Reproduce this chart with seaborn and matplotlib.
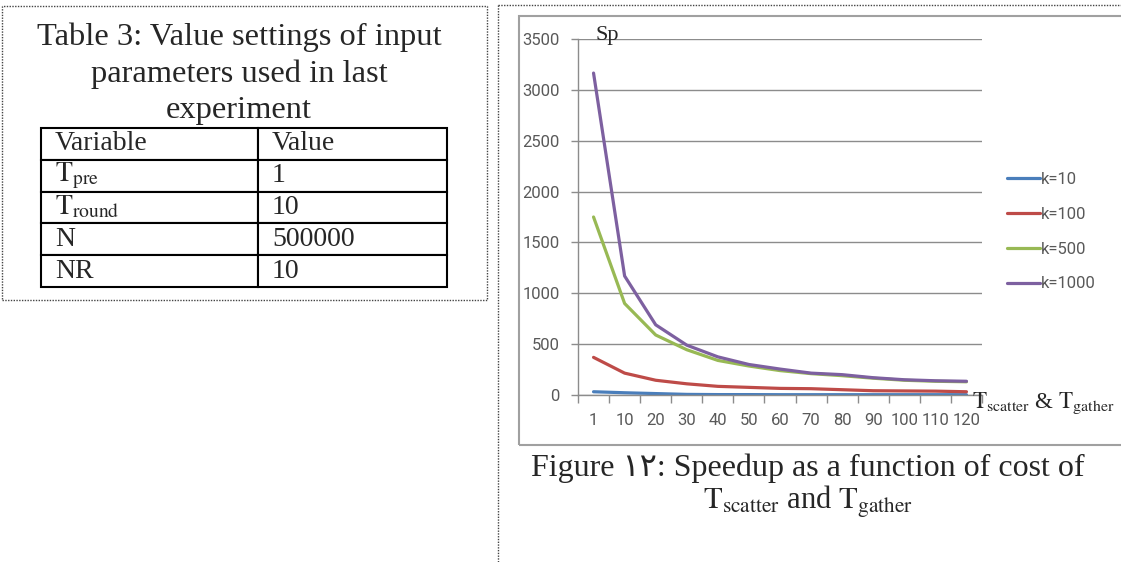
import numpy as np
import matplotlib
matplotlib.use('Agg')
import matplotlib.pyplot as plt
import pandas as pd
import seaborn as sns
from matplotlib.lines import Line2D
from matplotlib.patches import Rectangle

sns.set_style('white')
plt.rcParams['font.family'] = ['Liberation Serif', 'DejaVu Sans']
plt.rcParams['mathtext.fontset'] = 'stix'

# data
cost = ['1', '10', '20', '30', '40', '50', '60', '70', '80', '90', '100', '110', '120']
sp_k10 = [32, 22, 14, 6, 4, 4, 3, 3, 3, 3, 3, 3, 3]
sp_k100 = [370, 215, 145, 110, 85, 75, 65, 62, 52, 42, 40, 38, 32]
sp_k500 = [1750, 900, 590, 445, 340, 285, 240, 210, 190, 165, 145, 135, 130]
sp_k1000 = [3165, 1170, 690, 490, 375, 300, 255, 215, 200, 170, 150, 140, 135]
k_labels = ['k=10', 'k=100', 'k=500', 'k=1000']
k_colors = ['#4A7EBB', '#BE4B48', '#98B954', '#7D60A0']

table_vars = ['Variable', r'$\mathrm{T}_{\mathrm{pre}}$', r'$\mathrm{T}_{\mathrm{round}}$', 'N', 'NR']
table_vals = ['Value', '1', '10', '500000', '10']

df = pd.concat([
    pd.DataFrame({'cost': cost, 'sp': s, 'k': lab})
    for s, lab in zip([sp_k10, sp_k100, sp_k500, sp_k1000], k_labels)
])

W, H = 1121, 562


def fx(px):
    return px / W


def fy(py):
    return 1 - py / H


fig = plt.figure(figsize=(W / 100, H / 100), dpi=100)

# ---- chart ----
ax = fig.add_axes([fx(578), fy(395), (982 - 578) / W, (395 - 39) / H])
sns.lineplot(data=df, x='cost', y='sp', hue='k', palette=dict(zip(k_labels, k_colors)),
             lw=2.3, sort=False, ax=ax)

gray = '#8c8c8c'
tick_font = dict(family=['Roboto'], size=12)
ax.set_xlim(-0.5, 12.5)
ax.set_ylim(0, 3500)
ax.set_yticks(np.arange(0, 3501, 500))
ax.set_xticks(np.arange(-0.5, 13, 1), minor=True)
ax.yaxis.grid(True, color=gray, lw=1)
ax.xaxis.grid(False)
for s in ['top', 'right']:
    ax.spines[s].set_visible(False)
for s in ['left', 'bottom']:
    ax.spines[s].set_color(gray)
    ax.spines[s].set_linewidth(1)
ax.tick_params(axis='x', which='major', bottom=True, length=0, pad=13, labelcolor='#595959')
ax.tick_params(axis='x', which='minor', bottom=True, length=6, width=1, color=gray)
ax.tick_params(axis='y', left=True, length=5, width=1, color=gray, pad=8, labelcolor='#595959')
for lab in ax.get_xticklabels() + ax.get_yticklabels():
    lab.set_fontfamily(tick_font['family'])
    lab.set_fontsize(tick_font['size'])
ax.set_xlabel('')
ax.set_ylabel('')

handles, labels = ax.get_legend_handles_labels()
leg = ax.legend(handles, labels, loc='center left', bbox_to_anchor=(1.062, 0.459),
                frameon=False, handlelength=2.0, handletextpad=0.0, labelspacing=1.19,
                prop=tick_font, borderpad=0, borderaxespad=0)
for t in leg.get_texts():
    t.set_color('#595959')
for ln in leg.get_lines():
    ln.set_linewidth(2.3)

fig.text(fx(595), fy(40), 'Sp', fontsize=16, va='baseline', ha='left')
fig.text(fx(972), fy(408), r'$\mathrm{T}_{\mathrm{scatter}}$ & $\mathrm{T}_{\mathrm{gather}}$',
         fontsize=16.5, va='baseline', ha='left')

# chart frame
fig.add_artist(Rectangle((fx(519), fy(445)), (1130 - 519) / W, (445 - 16) / H,
                         transform=fig.transFigure, fill=False, ec='#a0a0a0', lw=1.5))

# caption
fig.text(fx(808), fy(476), 'Figure \u0661\u0662: Speedup as a function of cost of',
         fontsize=23, ha='center', va='baseline')
fig.text(fx(808), fy(509), r'$\mathrm{T}_{\mathrm{scatter}}$ and $\mathrm{T}_{\mathrm{gather}}$',
         fontsize=22, ha='center', va='baseline')

# ---- table panel ----
fig.text(fx(239), fy(45), 'Table 3: Value settings of input', fontsize=23.4, ha='center', va='baseline')
fig.text(fx(239), fy(82), 'parameters used in last', fontsize=23.4, ha='center', va='baseline')
fig.text(fx(239), fy(118), 'experiment', fontsize=23.4, ha='center', va='baseline')

tax = fig.add_axes([fx(41), fy(287), (447 - 41) / W, (287 - 128) / H])
tax.axis('off')
tbl = tax.table(cellText=[[a, b] for a, b in zip(table_vars, table_vals)],
                colWidths=[217 / 406, 189 / 406], bbox=[0, 0, 1, 1], cellLoc='left')
tbl.auto_set_font_size(False)
for (r, c), cell in tbl.get_celld().items():
    cell.set_edgecolor('black')
    cell.set_linewidth(1.5)
    cell.PAD = 0.065 if c == 0 else 0.074
    cell.get_text().set_fontsize(20)
    cell.get_text().set_fontfamily(['Liberation Serif', 'DejaVu Sans'])

# dotted panel borders
dot = dict(transform=fig.transFigure, ls=(0, (1, 1)), color='#444444', lw=1)
fig.add_artist(Rectangle((fx(2), fy(300)), (487 - 2) / W, (300 - 6) / H, fill=False, **dot))
fig.add_artist(Line2D([fx(498), fx(498)], [fy(5), fy(562)], **dot))
fig.add_artist(Line2D([fx(498), fx(1121)], [fy(5), fy(5)], **dot))

fig.savefig('out.png', dpi=100)
